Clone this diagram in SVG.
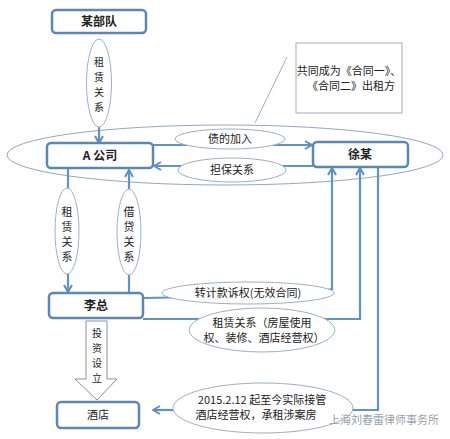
<svg xmlns="http://www.w3.org/2000/svg" width="450" height="439" viewBox="0 0 450 439">
<defs>
<marker id="arr" viewBox="0 0 10 10" refX="9" refY="5" markerWidth="10" markerHeight="10" markerUnits="userSpaceOnUse" orient="auto">
<polyline points="2,1 9,5 2,9" fill="none" stroke="#5b8fc7" stroke-width="2"/>
</marker>
<style>
.box{fill:#fff;stroke:#5b87b8;stroke-width:2.5}
.lbl{fill:#fff;stroke:#9db0c4;stroke-width:1}
.ln{fill:none;stroke:#5f93c9;stroke-width:2.2}
text{font-family:"Noto Sans CJK SC","Noto Sans",sans-serif;font-size:11px;fill:#222;text-anchor:middle}
.b{font-weight:bold;font-size:12px}
.v{font-size:10px}
</style>
</defs>
<rect width="450" height="439" fill="#fff"/>

<g id="group-ellipse">
<ellipse cx="225" cy="155" rx="218" ry="30" fill="none" stroke="#8fa8c2" stroke-width="1"/>
</g>

<g id="callout">
<rect x="296" y="43" width="106" height="70" fill="#fff" stroke="#a7adb3" stroke-width="1"/>
<line x1="287" y1="57" x2="255" y2="123" stroke="#a7adb3" stroke-width="1"/>
<text x="349" y="75" font-size="10.5">共同成为《合同一》、</text>
<text x="351" y="90" font-size="10.5">《合同二》出租方</text>
</g>

<g id="connectors">
<line class="ln" x1="99" y1="127" x2="99" y2="143" marker-end="url(#arr)"/>
<line class="ln" x1="153" y1="145" x2="312" y2="145" marker-end="url(#arr)"/>
<line class="ln" x1="313" y1="166" x2="154" y2="166" marker-end="url(#arr)"/>
<line class="ln" x1="68" y1="169" x2="68" y2="190"/>
<line class="ln" x1="68" y1="274" x2="68" y2="292" marker-end="url(#arr)"/>
<line class="ln" x1="129" y1="292" x2="129" y2="274"/>
<line class="ln" x1="129" y1="190" x2="129" y2="170" marker-end="url(#arr)"/>
<polyline class="ln" points="143,298 200,297 320,292 332,289 332,168" marker-end="url(#arr)"/>
<polyline class="ln" points="143,319 340,319 360,319 360,168" marker-end="url(#arr)"/>
<polyline class="ln" points="378,168 378,410 340,410"/>
<line class="ln" x1="175" y1="410" x2="153" y2="410" marker-end="url(#arr)"/>
</g>

<g id="node-moubudui">
<rect class="box" x="52" y="10" width="94" height="23" rx="4"/>
<text class="b" x="99" y="26">某部队</text>
</g>

<g id="label-zulin-top">
<ellipse class="lbl" cx="99" cy="83" rx="12.5" ry="44"/>
<text class="v" x="99" y="66">租</text>
<text class="v" x="99" y="81">赁</text>
<text class="v" x="99" y="96">关</text>
<text class="v" x="99" y="111">系</text>
</g>

<g id="node-acompany">
<rect class="box" x="47" y="143" width="106" height="25" rx="4"/>
<text class="b" x="100" y="160">A 公司</text>
</g>

<g id="node-xu">
<rect class="box" x="313" y="142" width="95" height="25" rx="4"/>
<text class="b" x="360" y="159">徐某</text>
</g>

<g id="label-zhai">
<ellipse class="lbl" cx="230" cy="139" rx="55" ry="10"/>
<text x="230" y="143">债的加入</text>
</g>

<g id="label-danbao">
<ellipse class="lbl" cx="232" cy="170" rx="54" ry="12"/>
<text x="232" y="174">担保关系</text>
</g>

<g id="label-zulin-left">
<ellipse class="lbl" cx="67" cy="231" rx="12" ry="43"/>
<text x="67" y="216">租</text>
<text x="67" y="231">赁</text>
<text x="67" y="246">关</text>
<text x="67" y="261">系</text>
</g>

<g id="label-jiedai">
<ellipse class="lbl" cx="129" cy="232" rx="12" ry="43"/>
<text x="129" y="216">借</text>
<text x="129" y="231">贷</text>
<text x="129" y="246">关</text>
<text x="129" y="261">系</text>
</g>

<g id="node-li">
<rect class="box" x="49" y="293" width="94" height="25" rx="4"/>
<text class="b" x="96" y="310">李总</text>
</g>

<g id="label-zhuan">
<ellipse class="lbl" cx="248" cy="293" rx="86" ry="11"/>
<text x="248" y="297" font-size="10.5">转计款诉权(无效合同)</text>
</g>

<g id="label-zulin-fw">
<ellipse class="lbl" cx="262" cy="330" rx="73" ry="22"/>
<text x="262" y="327" font-size="10.5">租赁关系（房屋使用</text>
<text x="264" y="342" font-size="10.5">权、装修、酒店经营权）</text>
</g>

<g id="arrow-touzi">
<polygon points="86,321 107,321 107,379 117,379 97,400 75,379 86,379" fill="#fff" stroke="#8a8f94" stroke-width="1"/>
<text class="v" x="97" y="337">投</text>
<text class="v" x="97" y="352">资</text>
<text class="v" x="97" y="367">设</text>
<text class="v" x="97" y="382">立</text>
</g>

<g id="node-jiudian">
<rect class="box" x="57" y="402" width="82" height="26" rx="4"/>
<text x="98" y="419" font-size="12">酒店</text>
</g>

<g id="label-2015">
<ellipse class="lbl" cx="263" cy="408" rx="90" ry="25"/>
<text x="262" y="404" font-size="10">2015.2.12 起至今实际接管</text>
<text x="256" y="419" font-size="10">酒店经营权，承租涉案房</text>
</g>

<g id="watermark">
<text x="384" y="424" font-size="12" style="fill:#9aa3ad">上海刘春雷律师事务所</text>
</g>
</svg>
